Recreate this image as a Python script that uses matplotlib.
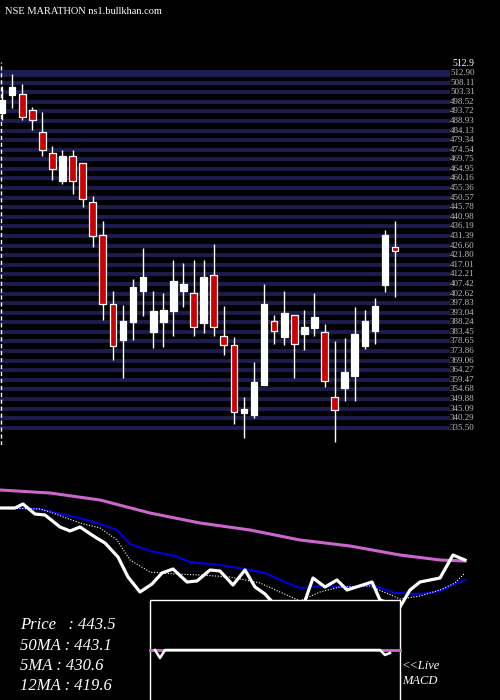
import numpy as np
import matplotlib
matplotlib.use("Agg")
import matplotlib.pyplot as plt
from matplotlib.patches import Rectangle

# ============================================================
# Data
# ============================================================

# open, high, low, close per candle
OPENS = [492.9, 501.9, 502.4, 494.4, 483.4, 472.9, 458.9, 471.4, 467.9, 448.4,
         431.9, 397.4, 379.4, 388.4, 403.9, 383.4, 388.4, 393.9, 403.9, 402.9,
         387.9, 411.9, 381.4, 376.9, 342.9, 341.9, 356.9, 388.9, 380.9, 391.9,
         382.4, 385.4, 383.4, 350.9, 355.4, 361.4, 376.4, 383.9, 406.9, 425.9]
HIGHS = [506.4, 512.4, 507.4, 495.9, 493.4, 476.4, 474.4, 474.4, 467.9, 451.4,
         438.9, 403.9, 396.9, 409.9, 425.4, 403.9, 402.9, 419.4, 417.9, 419.4,
         419.4, 427.4, 396.4, 380.9, 350.9, 368.4, 407.4, 391.9, 403.9, 391.9,
         394.4, 402.9, 387.4, 378.9, 380.4, 395.9, 394.4, 400.4, 434.4, 438.9]
LOWS = [489.4, 495.4, 489.4, 484.4, 471.4, 459.4, 457.4, 452.4, 445.9, 425.9,
        389.4, 369.4, 360.4, 379.4, 391.4, 375.4, 375.9, 381.4, 395.9, 381.4,
        382.9, 381.4, 371.9, 337.4, 330.4, 340.4, 356.9, 377.4, 376.9, 360.4,
        374.4, 381.4, 355.9, 328.4, 348.9, 348.9, 374.9, 377.4, 403.4, 400.9]
CLOSES = [499.4, 505.9, 490.9, 489.4, 474.4, 464.9, 471.4, 458.9, 449.9, 431.4,
          397.4, 376.4, 388.9, 405.9, 410.9, 393.9, 394.4, 408.9, 407.4, 385.9,
          410.9, 385.9, 376.9, 343.4, 344.9, 358.4, 397.4, 383.9, 392.9, 377.4,
          385.9, 390.9, 358.9, 344.4, 363.4, 382.4, 388.9, 396.4, 431.9, 423.9]

TOP_PRICE = 512.9
LEVELS = np.linspace(512.9, 335.5, 38)

# lower panel readings (x position, level)
MA50_X = [0, 50, 100, 150, 200, 250, 300, 350, 400, 440, 465]
MA50_Y = [210, 207, 200, 187, 177, 170, 160, 154, 145, 140, 139]
PRICE_X = [0, 15, 23, 35, 45, 60, 70, 80, 95, 105, 118, 128, 140, 152, 162, 173,
           187, 197, 210, 220, 233, 245, 255, 265, 275, 300, 313, 325, 337, 347,
           372, 380, 400, 410, 420, 440, 453, 465]
PRICE_Y = [192, 192, 196, 186, 185, 173, 169, 173, 163, 157, 143, 123, 108, 116,
           127, 131, 118, 119, 130, 129, 115, 130, 113, 106, 95, 85, 122, 113, 120,
           110, 118, 100, 93, 110, 118, 122, 145, 140]
MA12_X = [0, 20, 40, 60, 80, 100, 117, 130, 150, 175, 190, 220, 245, 265, 285,
          300, 320, 350, 372, 395, 420, 440, 455, 465]
MA12_Y = [192, 192, 191, 186, 182, 176, 170, 156, 149, 144, 138, 135, 131, 127,
          118, 112, 114, 113, 115, 107, 106, 109, 116, 120]
MA5_X = [0, 40, 50, 80, 100, 117, 130, 150, 175, 200, 230, 260, 280, 300, 320,
         340, 370, 400, 420, 440, 455, 465]
MA5_Y = [192, 191, 188, 177, 172, 160, 140, 128, 126, 125, 123, 117, 108, 99,
         108, 113, 114, 101, 104, 110, 117, 127]

MACD_X = [155, 160, 165, 380, 385, 390]
MACD_Y = [50, 42, 50, 50, 45, 47]

STATS = ["Price   : 443.5", "50MA : 443.1", "5MA : 430.6", "12MA : 419.6"]

BG = "#000000"
GRID = "#1c1c50"
RED = "#cc0000"
PINK = "#cc66cc"
BLUE = "#0000dd"
SERIF = ["Liberation Serif", "DejaVu Serif"]

# ============================================================
# Figure
# ============================================================

fig = plt.figure(figsize=(5, 7), dpi=100, facecolor=BG)

# price panel, pixel span x 0..450, y 50..445
ax = fig.add_axes([0, 255 / 700, 450 / 500, 395 / 700])
ax.set_facecolor(BG)
for lv in LEVELS:
    ax.axhline(lv, color=GRID, linewidth=2.8, zorder=1)
ax.axhline(TOP_PRICE, color=GRID, linewidth=5, zorder=1)

step = 10.08
for i, (o, h, l, c) in enumerate(zip(OPENS, HIGHS, LOWS, CLOSES)):
    col = "white" if c >= o else RED
    ax.vlines(i, l, h, color="white", linewidth=1, zorder=2)
    ax.add_patch(Rectangle((i - 0.33, min(o, c)), 0.66, max(abs(c - o), 0.8),
                           facecolor=col, edgecolor="white", linewidth=0.9, zorder=3))
ax.set_xlim(-0.2, 448 / step)
ax.set_ylim(549.4 - 0.5 * 445, 549.4 - 0.5 * 50)
ax.axvline(-0.15, color="white", linewidth=1, linestyle=(0, (3, 2)), ymin=0, ymax=0.97)
ax.axis("off")

for lv in LEVELS:
    ax.text(448 / step, lv, f"{lv:.2f}", color="#bbbbbb", fontsize=6.5,
            family=SERIF, va="center", ha="left", clip_on=False)
ax.text(450 / step, TOP_PRICE + 5, f"{TOP_PRICE}", color="white", fontsize=7,
        family=SERIF, va="center", ha="left", clip_on=False)

fig.text(5 / 500, 1 - 12 / 700, "NSE MARATHON ns1.bullkhan.com", color="white",
         fontsize=7.5, family=SERIF, va="center")

# lower panel, pixel span x 0..500, y 480..700
ax2 = fig.add_axes([0, 0, 1, 220 / 700])
ax2.set_facecolor(BG)
ax2.set_xlim(0, 500)
ax2.set_ylim(0, 220)
ax2.axis("off")
ax2.plot(MA50_X, MA50_Y, color=PINK, linewidth=2.2, zorder=2)
ax2.plot(MA12_X, MA12_Y, color=BLUE, linewidth=1.5, zorder=2)
ax2.plot(MA5_X, MA5_Y, color="white", linewidth=0.8, linestyle=(0, (1, 1.5)), zorder=2)
ax2.plot(PRICE_X, PRICE_Y, color="white", linewidth=2.3, zorder=3)

ax2.add_patch(Rectangle((150, -2), 250, 102, facecolor=BG, edgecolor="white",
                        linewidth=1, zorder=4))
ax2.plot([150, 400], [50, 50], color=PINK, linewidth=2, zorder=5)
ax2.plot(MACD_X, MACD_Y, color="white", linewidth=1.8, zorder=6)

for k, s in enumerate(STATS):
    ax2.text(20, 75 - k * 20.5, s, color="white", fontsize=12, family=SERIF,
             style="italic", va="center")
ax2.text(402, 34, "<<Live", color="white", fontsize=9, family=SERIF, style="italic", va="center")
ax2.text(402, 19, "MACD", color="white", fontsize=9, family=SERIF, style="italic", va="center")

fig.savefig("out.png", dpi=100, facecolor=BG)
